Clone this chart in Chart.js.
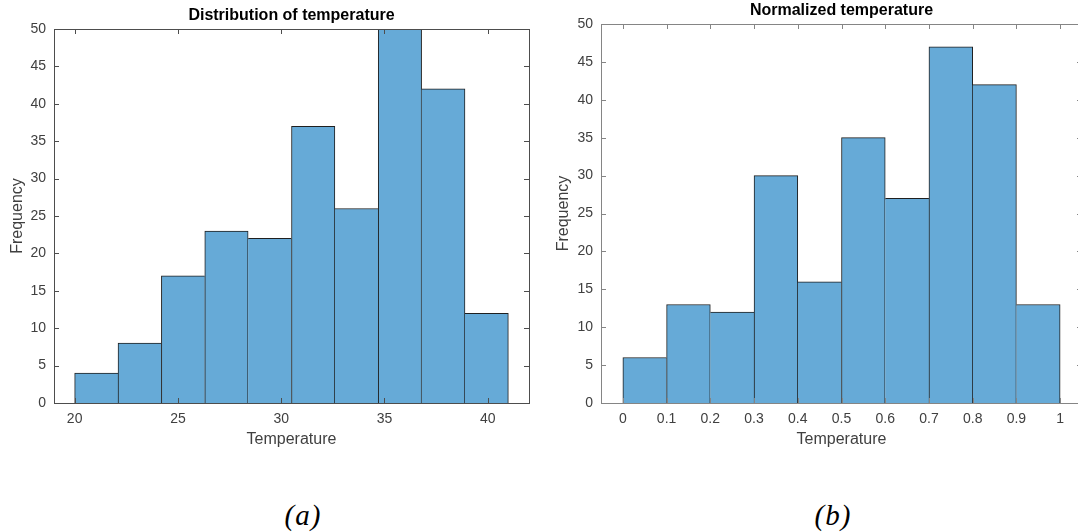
<!DOCTYPE html>
<html>
<head>
<meta charset="utf-8">
<script src="https://cdn.jsdelivr.net/npm/chart.js@4.4.0/dist/chart.umd.min.js"></script>
<style>
  html, body { margin: 0; padding: 0; background: #fff; overflow: hidden; width: 1078px; height: 532px; }
  body { position: relative; }
  .panel { position: absolute; top: 0; height: 460px; }
  #wrapA { left: 0; width: 540px; }
  #wrapB { left: 540px; width: 560px; }
  .cap { position: absolute; top: 499px; font: italic 29px "Liberation Serif", "DejaVu Serif", serif; letter-spacing: 1px; color: #000; transform: translateX(-50%); }
</style>
</head>
<body>
<div class="panel" id="wrapA"><canvas id="histA" width="540" height="460"></canvas></div>
<div class="panel" id="wrapB"><canvas id="histB" width="560" height="460"></canvas></div>
<div class="cap" style="left:303px">(a)</div>
<div class="cap" style="left:833px">(b)</div>
<script>
// bin edges and counts
const tempEdges = [20, 22.1, 24.2, 26.3, 28.4, 30.5, 32.6, 34.7, 36.8, 38.9, 41];
const tempCounts = [4, 8, 17, 23, 22, 37, 26, 50, 42, 12];
const tempTicks = [20, 25, 30, 35, 40];
const normEdges = [0, 0.1, 0.2, 0.3, 0.4, 0.5, 0.6, 0.7, 0.8, 0.9, 1];
const normCounts = [6, 13, 12, 30, 16, 35, 27, 47, 42, 13];
const normTicks = [0, 0.1, 0.2, 0.3, 0.4, 0.5, 0.6, 0.7, 0.8, 0.9, 1];
const freqTicks = [0, 5, 10, 15, 20, 25, 30, 35, 40, 45, 50];

const barFill = '#66aad7';
const barEdge = '#1f1f1f';
const font = '"Liberation Sans", Arial, sans-serif';

// box around plot area plus inward ticks on all four sides, like MATLAB
const boxPlugin = {
    id: 'matlabBox',
    afterDatasetsDraw(chart, args, opts) {
        const { ctx, chartArea: a, scales: { x, y } } = chart;
        const len = 5;
        ctx.save();
        ctx.strokeStyle = opts.color;
        ctx.lineWidth = 1;
        ctx.beginPath();
        x.ticks.forEach(t => {
            const px = Math.round(x.getPixelForValue(t.value)) + 0.5;
            ctx.moveTo(px, a.bottom); ctx.lineTo(px, a.bottom - len);
            ctx.moveTo(px, a.top); ctx.lineTo(px, a.top + len);
        });
        y.ticks.forEach(t => {
            const py = Math.round(y.getPixelForValue(t.value)) + 0.5;
            ctx.moveTo(a.left, py); ctx.lineTo(a.left + len, py);
            ctx.moveTo(a.right, py); ctx.lineTo(a.right - len, py);
        });
        ctx.stroke();
        ctx.strokeRect(Math.round(a.left) + 0.5, Math.round(a.top) + 0.5,
            Math.round(a.right - a.left), Math.round(a.bottom - a.top));
        ctx.restore();
    }
};

function makeHist(id, edges, counts, xTicks, cfg) {
    const points = counts.map((c, i) => ({ x: (edges[i] + edges[i + 1]) / 2, y: c }));
    const n = counts.length;
    new Chart(document.getElementById(id), {
        type: 'bar',
        data: {
            datasets: [{
                data: points,
                backgroundColor: barFill,
                borderColor: barEdge,
                borderWidth: c => {
                    const i = c.dataIndex;
                    return {
                        top: 1,
                        bottom: 0,
                        left: (i === 0 || counts[i - 1] <= counts[i]) ? 1 : 0,
                        right: (i === n - 1 || counts[i + 1] < counts[i]) ? 1 : 0
                    };
                },
                borderSkipped: false,
                barPercentage: 1,
                categoryPercentage: 1
            }]
        },
        options: {
            responsive: false,
            animation: false,
            layout: { padding: { left: 0, right: cfg.padRight, top: 0, bottom: 0 } },
            plugins: {
                legend: { display: false },
                tooltip: { enabled: false },
                title: {
                    display: true,
                    text: cfg.title,
                    fullSize: false,
                    color: '#000',
                    font: { family: font, size: 16, weight: 'bold', lineHeight: 1.2 },
                    padding: { top: cfg.titleTop, bottom: 3.4 }
                },
                matlabBox: { color: cfg.axisColor }
            },
            scales: {
                x: {
                    type: 'linear',
                    offset: false,
                    min: cfg.xMin,
                    max: cfg.xMax,
                    grid: { display: false, drawTicks: false },
                    border: { display: false },
                    afterBuildTicks: s => { s.ticks = xTicks.map(v => ({ value: v })); },
                    ticks: {
                        autoSkip: false,
                        maxRotation: 0,
                        padding: 8,
                        color: '#404040',
                        font: { family: font, size: 14 },
                        callback: v => Number(v.toFixed(2)).toString()
                    },
                    title: {
                        display: true,
                        text: 'Temperature',
                        color: '#404040',
                        font: { family: font, size: 16, lineHeight: 1.2 },
                        padding: 10.4
                    },
                    afterFit: s => { s.height = 57; }
                },
                y: {
                    min: freqTicks[0],
                    max: freqTicks[freqTicks.length - 1],
                    grid: { display: false, drawTicks: false },
                    border: { display: false },
                    afterBuildTicks: s => { s.ticks = freqTicks.map(v => ({ value: v })); },
                    ticks: {
                        padding: 8,
                        color: '#404040',
                        font: { family: font, size: 14 }
                    },
                    title: {
                        display: true,
                        text: 'Frequency',
                        color: '#404040',
                        font: { family: font, size: 16, lineHeight: 1.2 },
                        padding: cfg.yTitlePad
                    },
                    afterFit: s => { s.width = cfg.yWidth; }
                }
            }
        },
        plugins: [boxPlugin]
    });
}

makeHist('histA', tempEdges, tempCounts, tempTicks, {
    title: 'Distribution of temperature',
    xMin: 19, xMax: 42,
    yWidth: 54, padRight: 11, titleTop: 6.4, yTitlePad: 8.4,
    axisColor: '#4d4d4d'
});

makeHist('histB', normEdges, normCounts, normTicks, {
    title: 'Normalized temperature',
    xMin: -0.05, xMax: 1.05,
    yWidth: 61, padRight: 18, titleTop: 1.4, yTitlePad: 14.4,
    axisColor: '#858585'
});
</script>
</body>
</html>
